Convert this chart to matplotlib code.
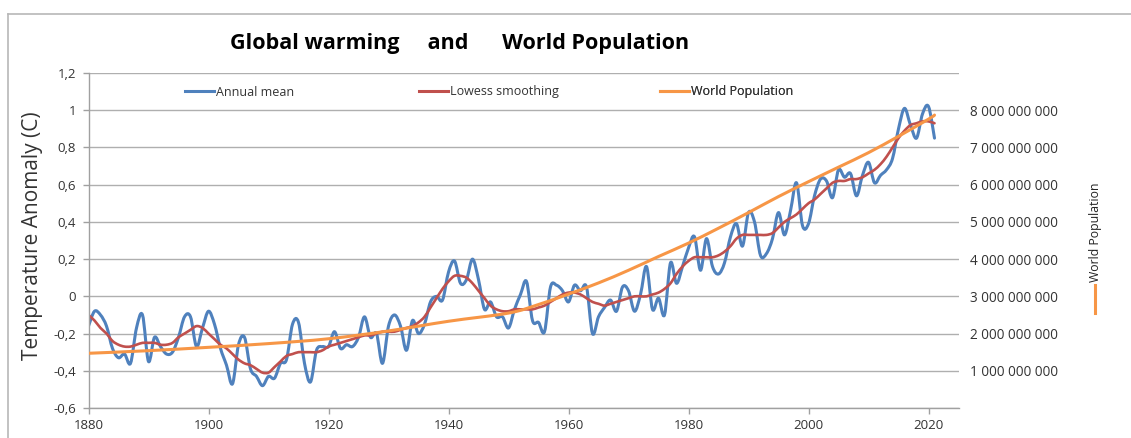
import numpy as np
import matplotlib
matplotlib.use("Agg")
import matplotlib.pyplot as plt
from matplotlib.path import Path
from matplotlib.patches import PathPatch
from matplotlib.lines import Line2D
from matplotlib.ticker import FuncFormatter

# ── DATA ──────────────────────────────────────────────────────────────────────
YEARS = list(range(1880, 2022))

ANNUAL_MEAN = [
    -0.16, -0.08, -0.10, -0.16, -0.28, -0.33, -0.31, -0.36, -0.17, -0.10,   # 1880
    -0.35, -0.22, -0.27, -0.31, -0.30, -0.22, -0.11, -0.11, -0.27, -0.17,   # 1890
    -0.08, -0.15, -0.28, -0.37, -0.47, -0.26, -0.22, -0.39, -0.43, -0.48,   # 1900
    -0.43, -0.44, -0.36, -0.34, -0.15, -0.14, -0.36, -0.46, -0.29, -0.27,   # 1910
    -0.27, -0.19, -0.28, -0.26, -0.27, -0.22, -0.11, -0.22, -0.20, -0.36,   # 1920
    -0.16, -0.10, -0.16, -0.29, -0.13, -0.20, -0.15, -0.03, -0.00, -0.02,   # 1930
     0.13,  0.19,  0.07,  0.09,  0.20,  0.09, -0.07, -0.03, -0.11, -0.11,   # 1940
    -0.17, -0.07,  0.01,  0.08, -0.13, -0.14, -0.19,  0.05,  0.06,  0.03,   # 1950
    -0.03,  0.06,  0.03,  0.05, -0.20, -0.11, -0.06, -0.02, -0.08,  0.05,   # 1960
     0.03, -0.08,  0.01,  0.16, -0.07, -0.01, -0.10,  0.18,  0.07,  0.16,   # 1970
     0.26,  0.32,  0.14,  0.31,  0.16,  0.12,  0.18,  0.32,  0.39,  0.27,   # 1980
     0.45,  0.40,  0.22,  0.23,  0.31,  0.45,  0.33,  0.46,  0.61,  0.38,   # 1990
     0.39,  0.54,  0.63,  0.62,  0.53,  0.68,  0.64,  0.66,  0.54,  0.65,   # 2000
     0.72,  0.61,  0.65,  0.68,  0.74,  0.90,  1.01,  0.92,  0.85,  0.98,   # 2010
     1.02,  0.85,                                                           # 2020
]

LOWESS = [
    -0.10, -0.13, -0.17, -0.20, -0.24, -0.26, -0.27, -0.27, -0.26, -0.25,
    -0.25, -0.25, -0.26, -0.26, -0.25, -0.22, -0.20, -0.18, -0.16, -0.17,
    -0.20, -0.23, -0.26, -0.28, -0.31, -0.34, -0.36, -0.37, -0.39, -0.41,
    -0.41, -0.38, -0.35, -0.32, -0.31, -0.30, -0.30, -0.30, -0.30, -0.29,
    -0.27, -0.26, -0.25, -0.24, -0.23, -0.22, -0.21, -0.21, -0.20, -0.19,
    -0.19, -0.19, -0.18, -0.17, -0.16, -0.14, -0.11, -0.06, -0.01,  0.04,
     0.08,  0.11,  0.11,  0.10,  0.07,  0.03, -0.01, -0.05, -0.07, -0.08,
    -0.08, -0.07, -0.07, -0.07, -0.07, -0.06, -0.05, -0.03, -0.01,  0.01,
     0.02,  0.02,  0.01, -0.01, -0.03, -0.04, -0.05, -0.04, -0.03, -0.02,
    -0.01,  0.00,  0.00,  0.00,  0.01,  0.02,  0.04,  0.07,  0.12,  0.16,
     0.19,  0.21,  0.21,  0.21,  0.21,  0.22,  0.24,  0.27,  0.31,  0.33,
     0.33,  0.33,  0.33,  0.33,  0.34,  0.37,  0.40,  0.42,  0.44,  0.47,
     0.50,  0.52,  0.55,  0.58,  0.61,  0.62,  0.62,  0.63,  0.63,  0.64,
     0.66,  0.68,  0.71,  0.75,  0.80,  0.85,  0.89,  0.92,  0.93,  0.94,
     0.94,  0.93,
]

POP_YEARS = [1880, 1890, 1900, 1910, 1920, 1930, 1940, 1950, 1955, 1960,
             1965, 1970, 1975, 1980, 1985, 1990, 1995, 2000, 2005, 2010,
             2015, 2020, 2021]
POPULATION = [1.47e9, 1.54e9, 1.63e9, 1.73e9, 1.86e9, 2.07e9, 2.33e9, 2.55e9,
              2.78e9, 3.06e9, 3.36e9, 3.70e9, 4.07e9, 4.43e9, 4.83e9, 5.25e9,
              5.68e9, 6.08e9, 6.47e9, 6.86e9, 7.30e9, 7.76e9, 7.87e9]

TEMP_TICKS = [-0.6, -0.4, -0.2, 0, 0.2, 0.4, 0.6, 0.8, 1.0, 1.2]
POP_TICKS = [1e9, 2e9, 3e9, 4e9, 5e9, 6e9, 7e9, 8e9]
YEAR_TICKS = [1880, 1900, 1920, 1940, 1960, 1980, 2000, 2020]

# ── STYLE ─────────────────────────────────────────────────────────────────────
BLUE = "#4F81BD"
RED = "#C0504D"
ORANGE = "#F79646"
GRID = "#AFAFAF"
TEXT = "#333333"

plt.rcParams["font.family"] = ["Open Sans", "DejaVu Sans"]

W, H = 1131, 438


def fx(px):
    return px / W


def fy(py):
    return 1 - py / H


def smooth_path(x, y):
    # Excel-style smoothed line: cubic bezier segments through every point
    x = np.asarray(x, float)
    y = np.asarray(y, float)
    n = len(x)
    verts = [(x[0], y[0])]
    codes = [Path.MOVETO]
    for i in range(n - 1):
        i0 = max(i - 1, 0)
        i3 = min(i + 2, n - 1)
        c1 = (x[i] + (x[i + 1] - x[i0]) / 6, y[i] + (y[i + 1] - y[i0]) / 6)
        c2 = (x[i + 1] - (x[i3] - x[i]) / 6, y[i + 1] - (y[i3] - y[i]) / 6)
        verts += [c1, c2, (x[i + 1], y[i + 1])]
        codes += [Path.CURVE4] * 3
    return Path(verts, codes)


def add_smooth(ax, x, y, color, lw):
    patch = PathPatch(smooth_path(x, y), facecolor="none", edgecolor=color,
                      lw=lw, capstyle="round", joinstyle="round")
    ax.add_patch(patch)
    return patch


fig = plt.figure(figsize=(W / 100, H / 100), dpi=100)
ax = fig.add_axes([fx(88.5), fy(408), 870 / W, 335 / H])
ax2 = ax.twinx()

add_smooth(ax, YEARS, ANNUAL_MEAN, BLUE, 2.2)
add_smooth(ax, YEARS, LOWESS, RED, 1.9)
add_smooth(ax2, POP_YEARS, POPULATION, ORANGE, 2.2)

ax.set_xlim(1880, 2025)
ax.set_ylim(-0.6, 1.2)
ax2.set_ylim(0, 9e9)

ax.set_xticks(YEAR_TICKS)
ax.set_yticks(TEMP_TICKS)
ax.yaxis.set_major_formatter(FuncFormatter(
    lambda v, _: f"{round(v, 1):g}".replace(".", ",")))
ax2.set_yticks(POP_TICKS)
ax2.yaxis.set_major_formatter(FuncFormatter(
    lambda v, _: f"{int(round(v)):,}".replace(",", " ")))

ax.grid(axis="y", color=GRID, lw=1.0)
ax.set_axisbelow(True)
for s in ["top", "right"]:
    ax.spines[s].set_visible(False)
for s in ["left", "bottom"]:
    ax.spines[s].set_color("#A0A0A0")
    ax.spines[s].set_linewidth(1.0)
for s in ax2.spines.values():
    s.set_visible(False)

ax.tick_params(axis="both", direction="out", length=4, width=1,
               color="#A0A0A0", labelcolor=TEXT, labelsize=9.5)
ax.tick_params(axis="x", pad=4)
ax.tick_params(axis="y", pad=5)
ax2.tick_params(axis="y", length=0, pad=8, labelcolor=TEXT, labelsize=9.8)

# legend entries spread along the top of the plot
entries = [(BLUE, "Annual mean", 185), (RED, "Lowess smoothing", 419),
           (ORANGE, "World Population", 660)]
for color, label, px in entries:
    leg = ax.legend([Line2D([], [], color=color, lw=2.2)], [label],
                    loc="center left", bbox_to_anchor=((px - 88.5) / 870, (408 - 92) / 335),
                    frameon=False, borderpad=0, borderaxespad=0,
                    handlelength=2.3, handletextpad=0.15, fontsize=9,
                    labelcolor=TEXT)
    ax.add_artist(leg)

# title, axis titles
fig.text(fx(460), fy(43), "Global warming     and      World Population",
         ha="center", va="center", fontsize=15.5, fontweight="bold", color="black")
fig.text(fx(33), fy(236), "Temperature Anomaly (C)", rotation=90,
         ha="center", va="center", fontsize=15, color="#333333")
fig.text(fx(1095), fy(282), "World Population", rotation=90,
         ha="center", va="bottom", fontsize=8.8, color="#222222")
fig.add_artist(Line2D([fx(1095), fx(1095)], [fy(285), fy(313)],
                      color=ORANGE, lw=2.2))

# chart area border (top and left edges)
fig.add_artist(Line2D([fx(8), fx(8)], [fy(14), 0], color="#B8B8B8", lw=1.2))
fig.add_artist(Line2D([fx(8), 1], [fy(14), fy(14)], color="#B8B8B8", lw=1.2))

fig.savefig("out.png", dpi=100)
